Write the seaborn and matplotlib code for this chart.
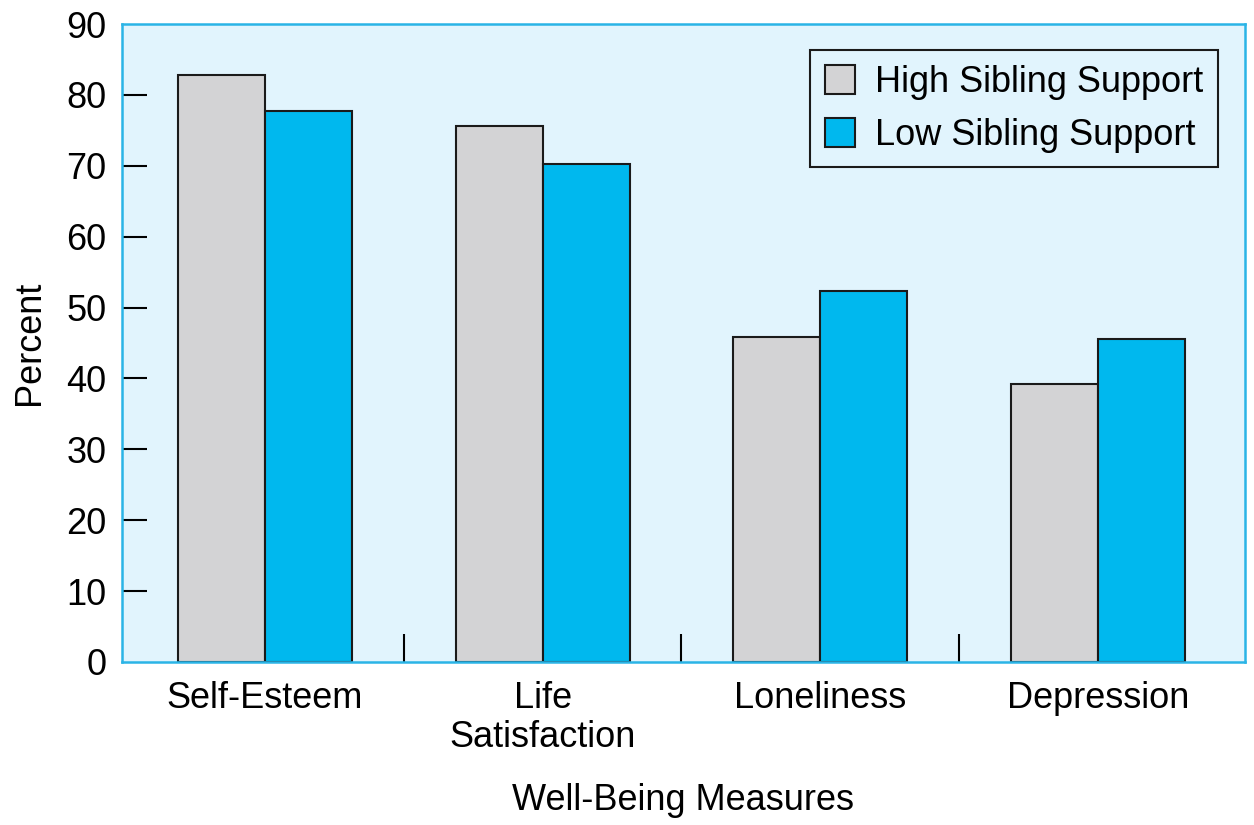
import matplotlib
matplotlib.use("Agg")
import matplotlib.pyplot as plt
import seaborn as sns
import pandas as pd
from matplotlib.ticker import FixedLocator

categories = ["Self-Esteem", "Life\nSatisfaction", "Loneliness", "Depression"]
high_support = [82.8, 75.6, 45.9, 39.2]
low_support = [77.7, 70.2, 52.4, 45.6]
series_names = ["High Sibling Support", "Low Sibling Support"]
y_ticks = [0, 10, 20, 30, 40, 50, 60, 70, 80, 90]

df = pd.DataFrame({
    "Measure": categories * 2,
    "Percent": high_support + low_support,
    "Group": [series_names[0]] * 4 + [series_names[1]] * 4,
})

sns.set_style("white")
plt.rcParams["font.family"] = ["Liberation Sans", "DejaVu Sans"]
plt.rcParams["text.color"] = "black"
plt.rcParams["axes.labelcolor"] = "black"
plt.rcParams["xtick.color"] = "black"
plt.rcParams["ytick.color"] = "black"

fig = plt.figure(figsize=(12.54, 8.25), dpi=100)
ax = fig.add_axes([0.0973, 0.1976, 0.8955, 0.7733])
ax.set_facecolor("#E1F4FD")

sns.barplot(data=df, x="Measure", y="Percent", hue="Group",
            palette=["#D3D3D5", "#00B8EE"], width=0.627, gap=0,
            edgecolor="#1a1a1a", linewidth=1.5, saturation=1, ax=ax)

ax.set_xlim(-0.515, 3.53)
ax.set_ylim(0, 90)
ax.set_yticks(y_ticks)
ax.tick_params(axis="y", left=True, direction="in", length=18, width=1.5,
               color="black", labelcolor="black", labelsize=26, pad=11)
ax.tick_params(axis="x", which="major", bottom=True, length=0, labelsize=26,
               labelcolor="black", pad=14)
ax.xaxis.set_minor_locator(FixedLocator([0.5, 1.5, 2.5]))
ax.tick_params(axis="x", which="minor", bottom=True, direction="in", length=20,
               width=1.5, color="black")
yt = ax.yaxis.get_major_ticks()
yt[0].tick1line.set_visible(False)
yt[-1].tick1line.set_visible(False)
for lbl in ax.get_xticklabels():
    lbl.set_linespacing(1.15)
for s in ax.spines.values():
    s.set_color("#2AB4E6")
    s.set_linewidth(1.8)

ax.set_xlabel("Well-Being Measures", fontsize=26, labelpad=20, color="black")
ax.set_ylabel("Percent", fontsize=26, labelpad=14, color="black")

leg = ax.legend(loc="upper right", bbox_to_anchor=(0.976, 0.959), fontsize=26,
                borderaxespad=0, frameon=True, fancybox=False,
                edgecolor="#1a1a1a", facecolor="#E1F4FD", framealpha=1,
                handlelength=0.85, handleheight=0.85, handletextpad=0.55,
                borderpad=0.4, labelspacing=0.5, title=None)
leg.get_frame().set_linewidth(1.5)
for t in leg.get_texts():
    t.set_color("black")

fig.savefig("out.png", dpi=100)
